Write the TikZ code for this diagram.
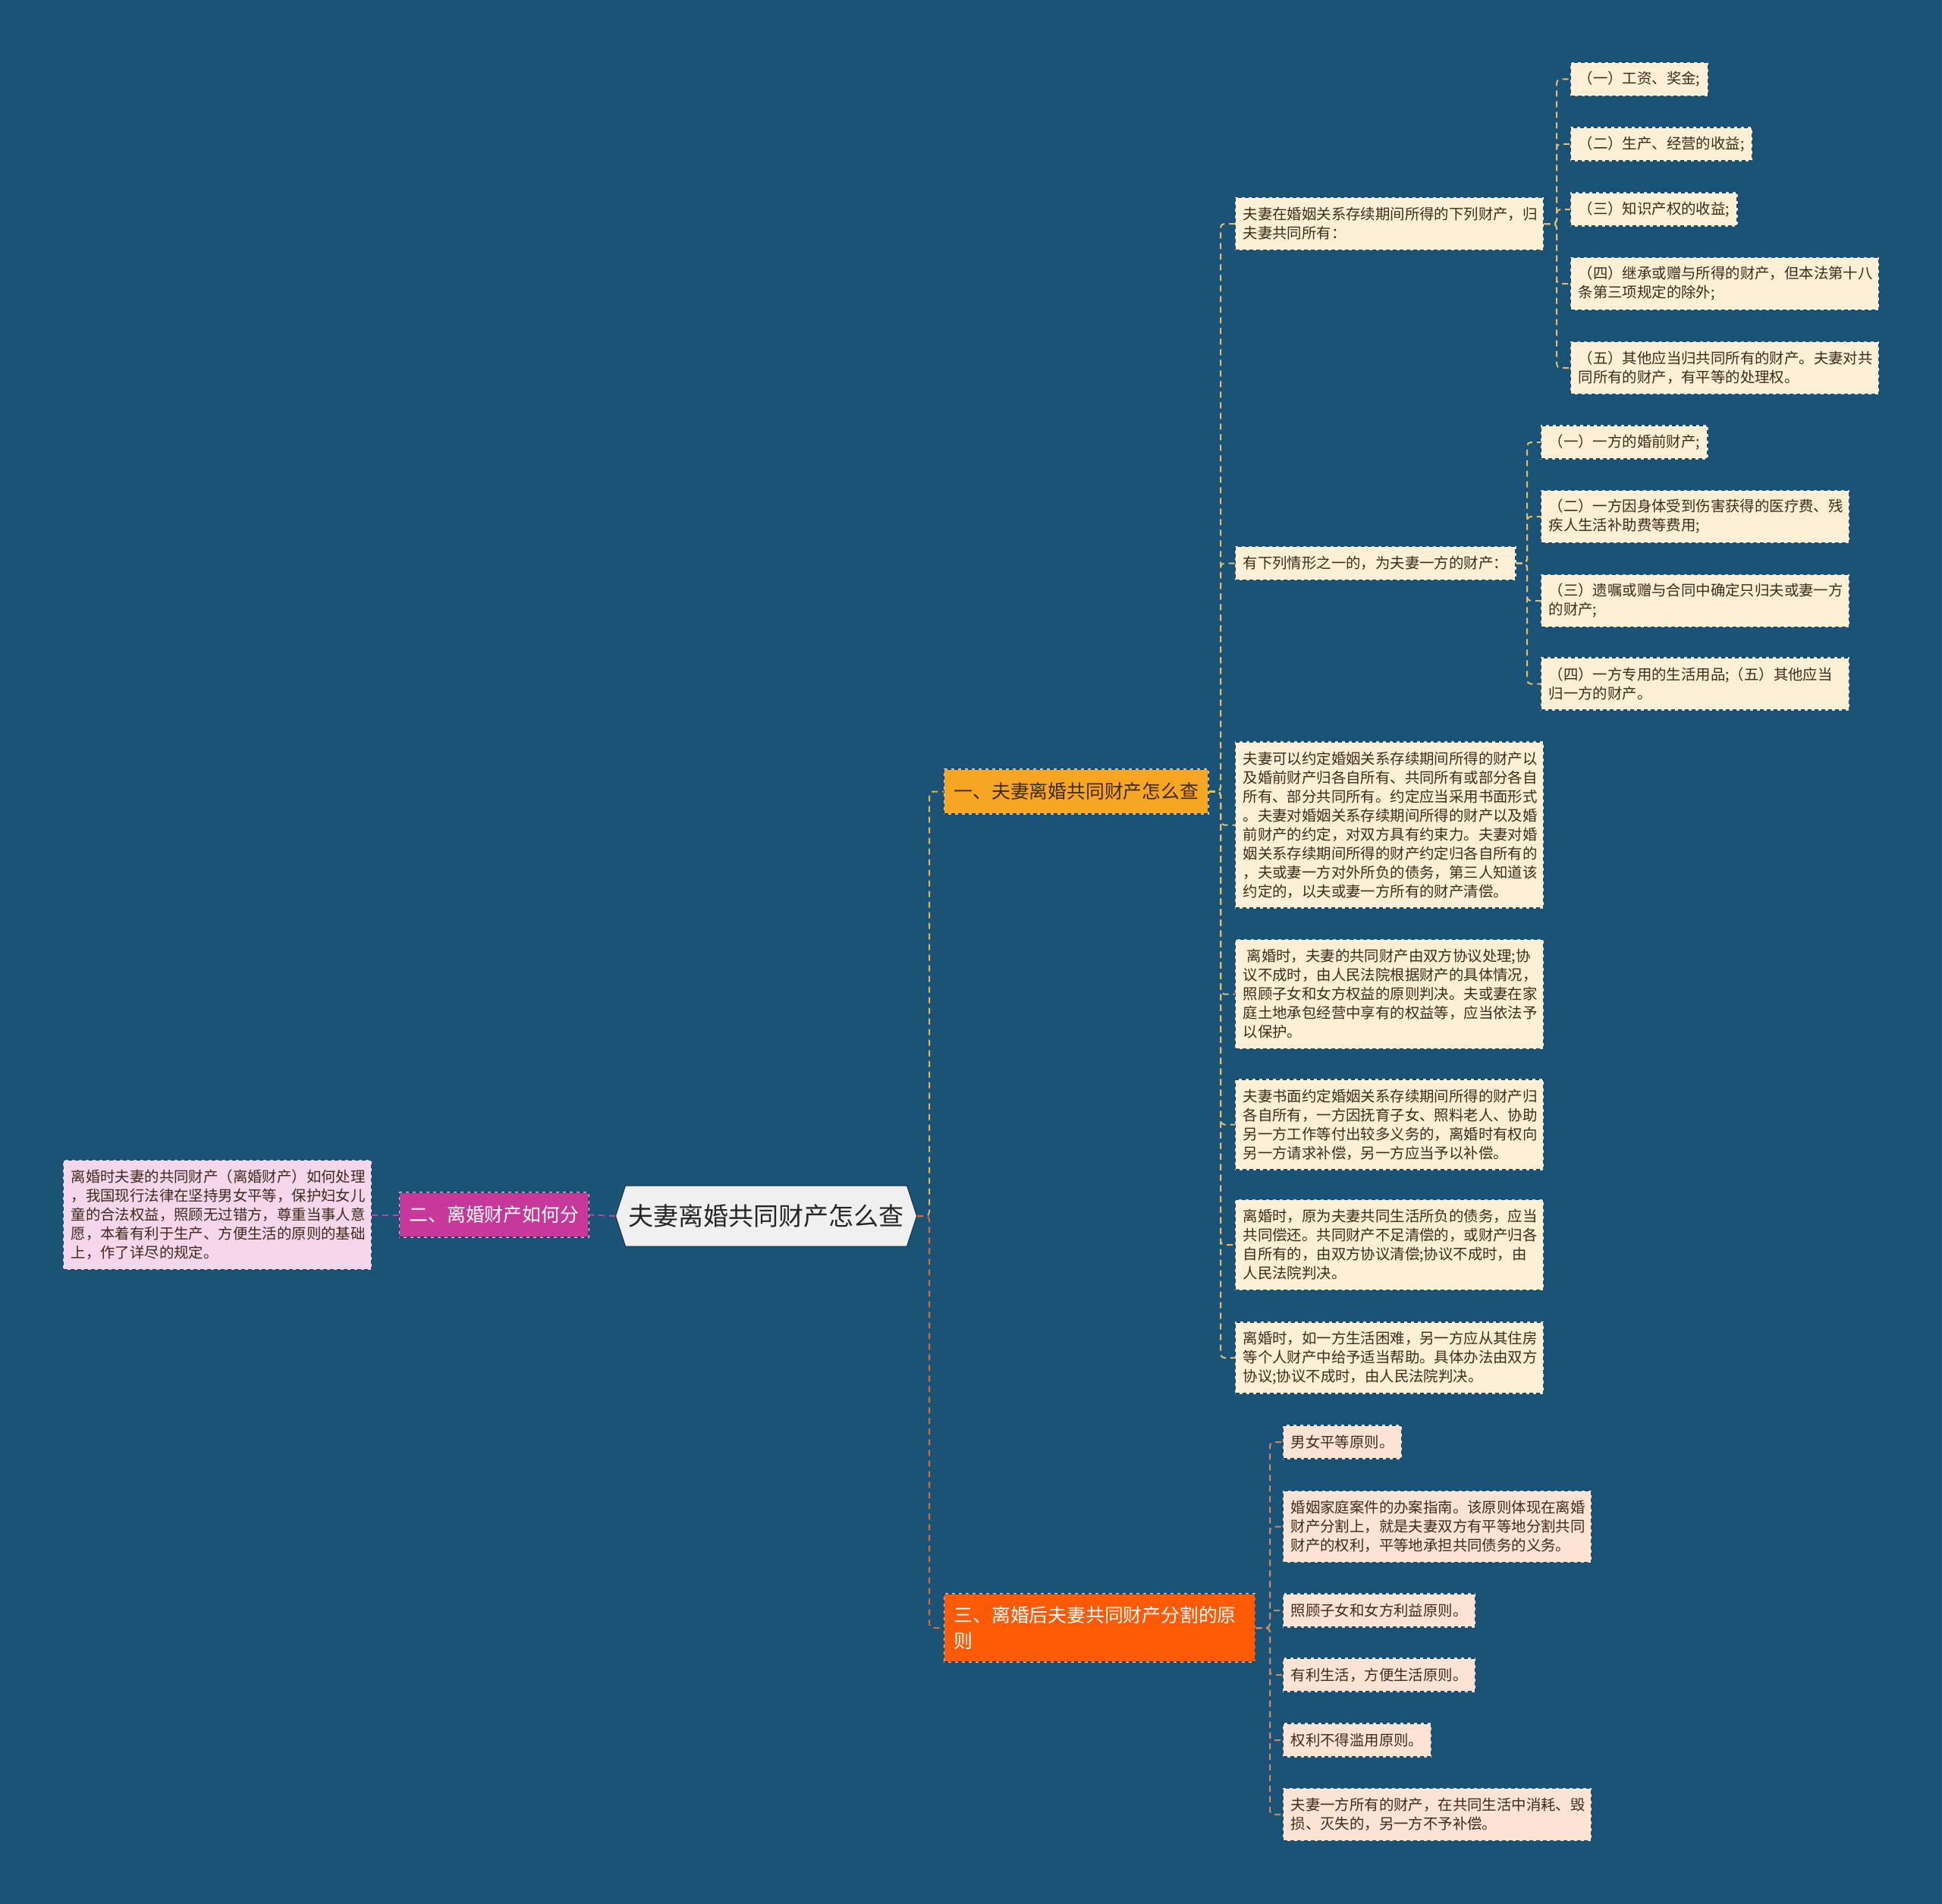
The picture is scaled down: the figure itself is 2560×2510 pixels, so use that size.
\documentclass[tikz,border=0pt]{standalone}
\usepackage{fontspec}
\setmainfont{Noto Sans CJK SC}
\usetikzlibrary{shapes.symbols}
\definecolor{bg}{HTML}{1A5376}
\definecolor{rootfill}{HTML}{F0F0F0}
\definecolor{bonefill}{HTML}{F7A623}
\definecolor{btwofill}{HTML}{C8379A}
\definecolor{bthreefill}{HTML}{FF5A05}
\definecolor{lonefill}{HTML}{FEF0D6}
\definecolor{ltwofill}{HTML}{F5D6EA}
\definecolor{lthreefill}{HTML}{FDE3D4}
\definecolor{coneline}{HTML}{E8B547}
\definecolor{ctwoline}{HTML}{B548A8}
\definecolor{cthreeline}{HTML}{E06A30}
\definecolor{goneline}{HTML}{E2BE6E}
\definecolor{gthreeline}{HTML}{C98A62}
\definecolor{txt}{HTML}{3D2B1B}
\begin{document}
\begin{tikzpicture}[x=1pt,y=-1pt,
  boxborder/.style={preaction={draw=white!75!bg, line width=1.4pt, solid}, draw=bg!85!black, line width=1.4pt, dash pattern=on 5pt off 4pt},
  leaf/.style={rectangle, boxborder, anchor=west, inner xsep=10pt, inner ysep=2pt, align=left, text=txt, font=\fontsize{19.4pt}{25pt}\selectfont},
  wide/.style={text width=386pt},
  lone/.style={leaf, fill=lonefill},
  lthree/.style={leaf, fill=lthreefill},
  ltwo/.style={leaf, fill=ltwofill, text=txt},
  nA/.style={minimum height=44pt},
  nB/.style={minimum height=69pt},
  nC/.style={minimum height=94pt},
  nD/.style={minimum height=119pt},
  nE/.style={minimum height=144pt},
  nH/.style={minimum height=219pt},
  branch/.style={rectangle, boxborder, anchor=west, inner xsep=13pt, inner ysep=2pt, align=left, font=\fontsize{24.8pt}{34pt}\selectfont},
  conn/.style={line width=2pt, dash pattern=on 8pt off 6pt, rounded corners=5pt},
]
\fill[bg] (0,0) rectangle (2560,2510);
\useasboundingbox (0,0) rectangle (2560,2510);

% junction coordinates
\coordinate (J) at (1225,1603);
\coordinate (V1) at (1609,1043.5);
\coordinate (V2) at (2052,295);
\coordinate (V3) at (2013,742.5);
\coordinate (V4) at (1674,2146);

% root
\node[shape=signal, signal to=west and east, signal pointer angle=144, fill=rootfill, draw=bg!60!black, line width=1pt, minimum width=397pt, minimum height=80pt, inner sep=0pt, text=black!85, font=\fontsize{33pt}{40pt}\selectfont] (root) at (1010,1603) {夫妻离婚共同财产怎么查};

% branches
\node[branch, fill=bonefill, text=txt, minimum height=59pt] (b1) at (1244,1043.5) {一、夫妻离婚共同财产怎么查};
\node[branch, fill=btwofill, text=white, minimum height=59pt] (b2) at (526,1601.5) {二、离婚财产如何分};
\node[branch, fill=bthreefill, text=white, minimum height=90pt, text width=384pt] (b3) at (1244,2146) {三、离婚后夫妻共同财产分割的原\\则};

% branch 2 leaf
\node[ltwo, nE, wide] (p1) at (83,1601.5) {离婚时夫妻的共同财产（离婚财产）如何处理\\，我国现行法律在坚持男女平等，保护妇女儿\\童的合法权益，照顾无过错方，尊重当事人意\\愿，本着有利于生产、方便生活的原则的基础\\上，作了详尽的规定。};

% branch 1 children
\node[lone, nB, wide] (c1) at (1628,295) {夫妻在婚姻关系存续期间所得的下列财产，归\\夫妻共同所有：};
\node[lone, nA] (c2) at (1628,742.5) {有下列情形之一的，为夫妻一方的财产：};
\node[lone, nH, wide] (c3) at (1628,1087.5) {夫妻可以约定婚姻关系存续期间所得的财产以\\及婚前财产归各自所有、共同所有或部分各自\\所有、部分共同所有。约定应当采用书面形式\\。夫妻对婚姻关系存续期间所得的财产以及婚\\前财产的约定，对双方具有约束力。夫妻对婚\\姻关系存续期间所得的财产约定归各自所有的\\，夫或妻一方对外所负的债务，第三人知道该\\约定的，以夫或妻一方所有的财产清偿。};
\node[lone, nE, wide] (c4) at (1628,1310.5) {\hspace*{5pt}离婚时，夫妻的共同财产由双方协议处理;协\\议不成时，由人民法院根据财产的具体情况，\\照顾子女和女方权益的原则判决。夫或妻在家\\庭土地承包经营中享有的权益等，应当依法予\\以保护。};
\node[lone, nD, wide] (c5) at (1628,1482.5) {夫妻书面约定婚姻关系存续期间所得的财产归\\各自所有，一方因抚育子女、照料老人、协助\\另一方工作等付出较多义务的，离婚时有权向\\另一方请求补偿，另一方应当予以补偿。};
\node[lone, nD, wide] (c6) at (1628,1641) {离婚时，原为夫妻共同生活所负的债务，应当\\共同偿还。共同财产不足清偿的，或财产归各\\自所有的，由双方协议清偿;协议不成时，由\\人民法院判决。};
\node[lone, nC, wide] (c7) at (1628,1790) {离婚时，如一方生活困难，另一方应从其住房\\等个人财产中给予适当帮助。具体办法由双方\\协议;协议不成时，由人民法院判决。};

% c1 children
\node[lone, nA] (g1) at (2070,104.5) {（一）工资、奖金;};
\node[lone, nA] (g2) at (2070,190) {（二）生产、经营的收益;};
\node[lone, nA] (g3) at (2070,276) {（三）知识产权的收益;};
\node[lone, nB, wide] (g4) at (2070,374) {（四）继承或赠与所得的财产，但本法第十八\\条第三项规定的除外;};
\node[lone, nB, wide] (g5) at (2070,485) {（五）其他应当归共同所有的财产。夫妻对共\\同所有的财产，有平等的处理权。};

% c2 children
\node[lone, nA] (h1) at (2031,583) {（一）一方的婚前财产;};
\node[lone, nB, wide] (h2) at (2031,681) {（二）一方因身体受到伤害获得的医疗费、残\\疾人生活补助费等费用;};
\node[lone, nB, wide] (h3) at (2031,792) {（三）遗嘱或赠与合同中确定只归夫或妻一方\\的财产;};
\node[lone, nB, wide] (h4) at (2031,901.5) {（四）一方专用的生活用品;（五）其他应当\\归一方的财产。};

% branch 3 children
\node[lthree, nA] (k1) at (1691,1901) {男女平等原则。};
\node[lthree, nC, wide] (k2) at (1691,2012.5) {婚姻家庭案件的办案指南。该原则体现在离婚\\财产分割上，就是夫妻双方有平等地分割共同\\财产的权利，平等地承担共同债务的义务。};
\node[lthree, nA] (k3) at (1691,2123) {照顾子女和女方利益原则。};
\node[lthree, nA] (k4) at (1691,2208) {有利生活，方便生活原则。};
\node[lthree, nA] (k5) at (1691,2294) {权利不得滥用原则。};
\node[lthree, nB, wide] (k6) at (1691,2392) {夫妻一方所有的财产，在共同生活中消耗、毁\\损、灭失的，另一方不予补偿。};

% connectors
\draw[conn, coneline] (root.east) -- (J) |- (b1.west);
\draw[conn, cthreeline] (root.east) -- (J) |- (b3.west);
\draw[conn, ctwoline] (root.west) -- (b2.east);
\draw[conn, ctwoline] (b2.west) -- (p1.east);
\foreach \c in {c1,c2,c3,c4,c5,c6,c7}
  \draw[conn, goneline] (b1.east) -- (V1) |- (\c.west);
\foreach \c in {g1,g2,g3,g4,g5}
  \draw[conn, goneline] (c1.east) -- (V2) |- (\c.west);
\foreach \c in {h1,h2,h3,h4}
  \draw[conn, goneline] (c2.east) -- (V3) |- (\c.west);
\foreach \c in {k1,k2,k3,k4,k5,k6}
  \draw[conn, gthreeline] (b3.east) -- (V4) |- (\c.west);
\end{tikzpicture}
\end{document}
